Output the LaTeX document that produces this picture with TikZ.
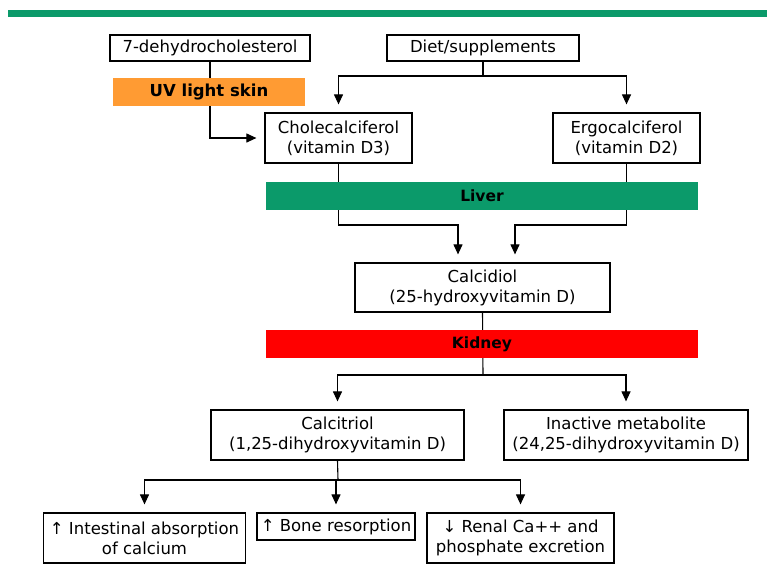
\documentclass[tikz,border=0pt]{standalone}
\usepackage{fontspec}
\setmainfont{DejaVu Sans}
\usetikzlibrary{arrows.meta, backgrounds, positioning}
\definecolor{uvorange}{HTML}{FF9B33}
\definecolor{livergreen}{HTML}{0B9A6A}
\definecolor{kidneyred}{HTML}{FF0000}
\tikzset{
	boxnode/.style={
			shape=rectangle,
			draw=black,
			line width=1.2pt,
			fill=white,
			align=center,
			inner sep=0pt,
			font=\fontsize{16.5}{20}\selectfont
		},
	barnode/.style={
			shape=rectangle,
			draw=none,
			minimum height=28pt,
			inner sep=0pt,
			font=\fontsize{15.5}{19}\selectfont\bfseries
		},
	flowline/.style={
			line width=1.1pt
		},
	flowarrow/.style={
			flowline,
			-{Triangle[length=10pt,width=9pt]},
			shorten >=8pt
		}
}

\begin{document}
\begin{tikzpicture}[x=1pt, y=-1pt]

  \useasboundingbox (0,0) rectangle (767,574);
  \fill[livergreen] (8,10) rectangle (767,17);

  % sources
  \node[boxnode, minimum width=200pt, minimum height=26pt] (dhc) at (210,48) {7-dehydrocholesterol};
  \node[boxnode, minimum width=192pt, minimum height=26pt] (diet) at (483,48) {Diet/supplements};
  \node[barnode, fill=uvorange, minimum width=192pt, font=\fontsize{16.5}{20}\selectfont\bfseries] (uv) at (209,92) {UV light skin};

  \node[boxnode, minimum width=147pt, minimum height=50pt] (chole) at (338.5,138) {Cholecalciferol\\(vitamin D3)};
  \node[boxnode, minimum width=147pt, minimum height=50pt] (ergo) at (626.5,138) {Ergocalciferol\\(vitamin D2)};

  \node[barnode, fill=livergreen, minimum width=432pt] (liver) at (482,196) {Liver};
  \node[boxnode, minimum width=255pt, minimum height=49pt] (calcidiol) at (482.5,287.5) {Calcidiol\\(25-hydroxyvitamin D)};
  \node[barnode, fill=kidneyred, minimum width=432pt] (kidney) at (482,344) {Kidney};

  \node[boxnode, minimum width=253pt, minimum height=50pt] (calcitriol) at (337.5,435) {Calcitriol\\(1,25-dihydroxyvitamin D)};
  \node[boxnode, minimum width=244pt, minimum height=50pt] (inactive) at (626,435) {Inactive metabolite\\(24,25-dihydroxyvitamin D)};

  % effects
  \node[boxnode, minimum width=202pt, minimum height=50pt] (intest) at (144.5,538) {↑ Intestinal absorption\\of calcium};
  \node[boxnode, minimum width=158pt, minimum height=27pt] (bone) at (336,526.5) {↑ Bone resorption};
  \node[boxnode, minimum width=187pt, minimum height=50pt] (renal) at (520.5,538) {↓ Renal Ca++ and\\phosphate excretion};

  \coordinate (dsplit) at (483,76);
  \coordinate (jl) at (458,225);
  \coordinate (jr) at (515,225);
  \coordinate (ksplit) at (483,375);
  \coordinate (csplit) at (338,480);

  \begin{scope}[on background layer]
    \draw[flowarrow] (dhc.south) |- (chole.west);
    \draw[flowline] (diet.south) -- (dsplit);
    \draw[flowarrow] (dsplit) -| (chole.north);
    \draw[flowarrow] (dsplit) -| (ergo.north);
    \draw[flowarrow] (chole.south) |- (jl) -- (jl |- calcidiol.north);
    \draw[flowarrow] (ergo.south) |- (jr) -- (jr |- calcidiol.north);
    \draw[flowline] (calcidiol.south) -- (ksplit);
    \draw[flowarrow] (ksplit) -| (calcitriol.north);
    \draw[flowarrow] (ksplit) -| (inactive.north);
    \draw[flowline] (calcitriol.south) -- (csplit);
    \draw[flowarrow] (csplit) -| (intest.north);
    \draw[flowarrow] (csplit) -| (bone.north);
    \draw[flowarrow] (csplit) -| (renal.north);
  \end{scope}

\end{tikzpicture}
\end{document}
